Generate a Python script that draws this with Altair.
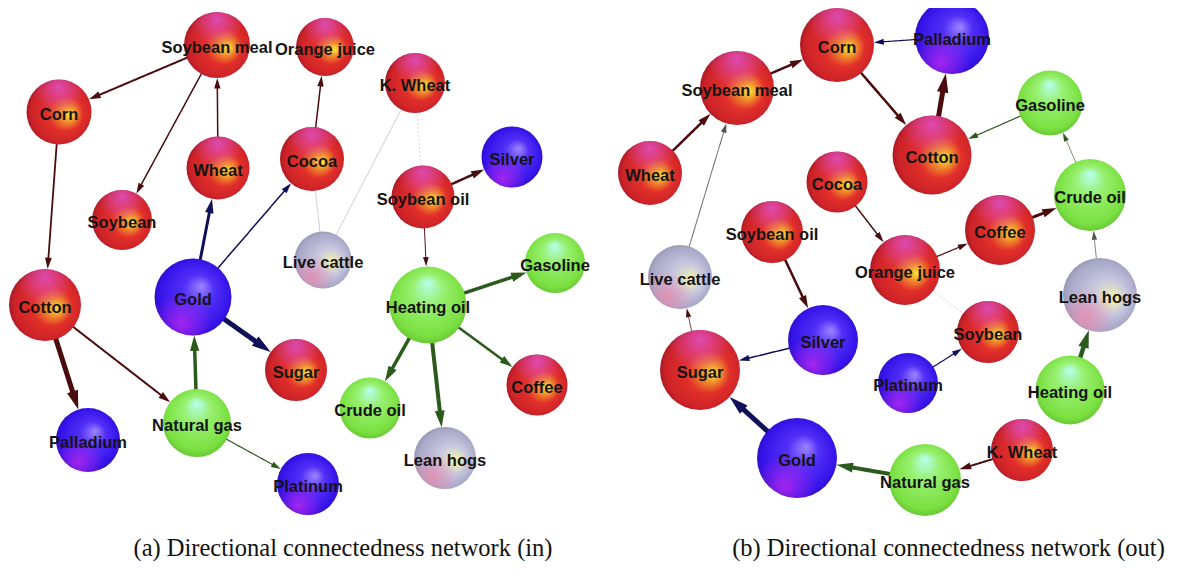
import math
import altair as alt
import pandas as pd

# ---------------- data ----------------
groups = {
    "Soybean meal": "agri", "Orange juice": "agri", "Corn": "agri", "Wheat": "agri",
    "Soybean": "agri", "Cocoa": "agri", "K. Wheat": "agri", "Soybean oil": "agri",
    "Sugar": "agri", "Cotton": "agri", "Coffee": "agri",
    "Gold": "metal", "Silver": "metal", "Palladium": "metal", "Platinum": "metal",
    "Heating oil": "energy", "Gasoline": "energy", "Crude oil": "energy", "Natural gas": "energy",
    "Live cattle": "live", "Lean hogs": "live",
}

# Panel (a): in-network
a_names = ["Soybean meal", "Orange juice", "Corn", "Wheat", "Soybean", "Cocoa", "K. Wheat",
           "Silver", "Soybean oil", "Live cattle", "Heating oil", "Gasoline", "Coffee",
           "Crude oil", "Lean hogs", "Platinum", "Sugar", "Gold", "Cotton", "Palladium",
           "Natural gas"]
a_x = [217, 325, 59, 218, 122, 312, 415, 512, 423, 323, 428, 555, 537, 370, 445, 308, 296, 193, 45, 88, 197]
a_y = [45, 47, 112, 168, 220, 159, 83, 157, 197, 260, 305, 263, 385, 408, 458, 484, 370, 297, 305, 440, 423]
a_r = [33, 29, 32.5, 31.5, 30, 32, 30, 30.5, 31.5, 28.5, 38.5, 30, 30.5, 30.5, 31, 31, 31, 38.5, 36, 32, 34]

a_src = ["Soybean meal", "Soybean meal", "Wheat", "Corn", "Cotton", "Cotton", "Gold", "Gold",
         "Gold", "Natural gas", "Natural gas", "Cocoa", "Live cattle", "Live cattle", "K. Wheat",
         "Soybean oil", "Soybean oil", "Heating oil", "Heating oil", "Heating oil", "Heating oil"]
a_dst = ["Corn", "Soybean", "Soybean meal", "Cotton", "Palladium", "Natural gas", "Wheat", "Cocoa",
         "Sugar", "Gold", "Platinum", "Orange juice", "Cocoa", "K. Wheat", "Soybean oil",
         "Silver", "Heating oil", "Gasoline", "Coffee", "Crude oil", "Lean hogs"]
a_w = [2.0, 1.5, 1.5, 1.8, 5.0, 2.0, 3.0, 1.5, 5.0, 3.5, 1.2, 1.5, 0.6, 0.6, 0.5, 2.5, 1.0, 3.5, 2.5, 3.5, 4.0]
a_kind = ["dir", "dir", "dir", "dir", "dir", "dir", "dir", "dir", "dir", "dir", "dir", "dir",
          "undir", "undir", "weak", "dir", "dir", "dir", "dir", "dir", "dir"]

# Panel (b): out-network
b_names = ["Corn", "Palladium", "Soybean meal", "Wheat", "Cocoa", "Soybean oil", "Gasoline",
           "Cotton", "Crude oil", "Coffee", "Orange juice", "Live cattle", "Lean hogs", "Silver",
           "Soybean", "Sugar", "Platinum", "Heating oil", "Gold", "K. Wheat", "Natural gas"]
b_x = [837, 952, 737, 650, 837, 772, 1050, 932, 1090, 1000, 905, 680, 1100, 823, 988, 700, 908, 1070, 797, 1022, 925]
b_y = [45, 37, 88, 173, 182, 232, 103, 155, 195, 230, 270, 277, 295, 340, 332, 370, 383, 390, 458, 450, 480]
b_r = [37, 37, 37, 32, 30.5, 31, 32.5, 39.5, 36, 35, 35, 32, 37, 35, 31, 40, 30, 34.5, 40, 31, 36]

b_src = ["Soybean meal", "Wheat", "Live cattle", "Palladium", "Corn", "Cotton", "Gasoline",
         "Crude oil", "Coffee", "Orange juice", "Cocoa", "Orange juice", "Lean hogs", "Heating oil",
         "Soybean oil", "Silver", "Sugar", "Platinum", "Gold", "Natural gas", "K. Wheat"]
b_dst = ["Corn", "Soybean meal", "Soybean meal", "Corn", "Cotton", "Palladium", "Cotton",
         "Gasoline", "Crude oil", "Coffee", "Orange juice", "Soybean", "Crude oil", "Lean hogs",
         "Silver", "Sugar", "Live cattle", "Soybean", "Sugar", "Gold", "Natural gas"]
b_w = [2.5, 2.5, 1.0, 1.2, 2.5, 5.0, 1.2, 0.7, 3.0, 1.2, 1.5, 0.5, 0.8, 4.5, 2.5, 1.5, 0.8, 1.2, 5.0, 4.0, 2.0]
b_kind = ["dir", "dir", "dir", "dir", "dir", "dir", "dir", "dir", "dir", "dir", "dir", "weak",
          "dir", "dir", "dir", "dir", "dir", "dir", "dir", "dir", "dir"]

captions = ["(a) Directional connectedness network (in)", "(b) Directional connectedness network (out)"]

# ---------------- styling ----------------
def stops(pairs):
    return [alt.GradientStop(offset=o, color=c) for o, c in pairs]

grad = {
    "agri": alt.RadialGradient(gradient="radial", x1=0.68, y1=0.55, r1=0.0, x2=0.52, y2=0.5, r2=0.56,
                               stops=stops([(0, "#f8e838"), (0.22, "#f08a2c"), (0.48, "#e2302a"),
                                            (0.85, "#cc2228"), (1, "#941622")])),
    "metal": alt.RadialGradient(gradient="radial", x1=0.62, y1=0.36, r1=0.0, x2=0.5, y2=0.5, r2=0.56,
                                stops=stops([(0, "#9c86ff"), (0.35, "#5230f6"), (0.8, "#3614ea"),
                                             (1, "#2808b8")])),
    "energy": alt.RadialGradient(gradient="radial", x1=0.5, y1=0.2, r1=0.0, x2=0.5, y2=0.5, r2=0.58,
                                 stops=stops([(0, "#b8fff0"), (0.35, "#98f070"), (0.8, "#7ae040"),
                                              (1, "#5cb432")])),
    "live": alt.RadialGradient(gradient="radial", x1=0.7, y1=0.55, r1=0.0, x2=0.5, y2=0.5, r2=0.58,
                               stops=stops([(0, "#f6f6a8"), (0.4, "#c8c8e0"), (0.8, "#a8a8c8"),
                                            (1, "#8a8aa0")])),
}
overlay = {
    "agri": ("rgba(224,80,200,0.85)", "rgba(224,80,200,0)", 0.5, 0.12),
    "metal": ("rgba(190,40,240,0.8)", "rgba(190,40,240,0)", 0.35, 0.85),
    "live": ("rgba(232,140,176,0.85)", "rgba(232,140,176,0)", 0.3, 0.8),
}

edge_groups = ["agri", "metal", "energy", "live", "gray"]
edge_colors = ["#4a0c0c", "#10105a", "#2c5a1c", "#555555", "#aaaaaa"]

# circle symbols: diameter = sqrt(size)
R_SCALE = alt.Scale(type="pow", exponent=2, domain=[0, 40], range=[0, 6400])


def build(names, xs, ys, rs, src, dst, ws, kinds, xdom, ydom, width, height, caption, cdx):
    nodes = pd.DataFrame({"name": names, "x": xs, "y": ys, "r": rs})
    nodes["group"] = nodes["name"].map(groups)
    pos = {n: (x, y, r) for n, x, y, r in zip(names, xs, ys, rs)}

    rows = []
    for s, t, w, k in zip(src, dst, ws, kinds):
        sx, sy, _ = pos[s]
        tx, ty, tr = pos[t]
        dx, dy = tx - sx, ty - sy
        d = math.hypot(dx, dy)
        ux, uy = dx / d, dy / d
        tipx, tipy = tx - ux * tr, ty - uy * tr
        L = 7 + 2.4 * w
        directed = k == "dir"
        ex, ey = (tipx - ux * L * 0.7, tipy - uy * L * 0.7) if directed else (tx, ty)
        rows.append({
            "sx": sx, "sy": sy, "ex": ex, "ey": ey, "w": w, "kind": k,
            "eg": groups[s] if k == "dir" else "gray",
            "ax": tipx - ux * L / 2, "ay": tipy - uy * L / 2,
            "ang": (math.degrees(math.atan2(ux, -uy)) + 360) % 360,
            "alen": L, "directed": directed,
        })
    edges = pd.DataFrame(rows)
    arrows = edges[edges["directed"]]

    X = alt.Scale(domain=xdom, nice=False, zero=False)
    Y = alt.Scale(domain=ydom, nice=False, zero=False, reverse=True)
    ecol = alt.Color("eg:N", scale=alt.Scale(domain=edge_groups, range=edge_colors), legend=None)

    lines = alt.Chart(edges).mark_rule().encode(
        x=alt.X("sx:Q", scale=X, axis=None), y=alt.Y("sy:Q", scale=Y, axis=None),
        x2="ex:Q", y2="ey:Q",
        strokeWidth=alt.StrokeWidth("w:Q", scale=alt.Scale(domain=[0, 5], range=[0, 5]), legend=None),
        color=ecol,
        strokeDash=alt.StrokeDash("kind:N", scale=alt.Scale(domain=["dir", "undir", "weak"],
                                                            range=[[1, 0], [1, 0], [2, 2]]), legend=None),
    )
    heads = alt.Chart(arrows).mark_point(shape="M0,-1L0.6,1L-0.6,1Z", filled=True, opacity=1).encode(
        x=alt.X("ax:Q", scale=X, axis=None), y=alt.Y("ay:Q", scale=Y, axis=None),
        angle=alt.Angle("ang:Q", scale=alt.Scale(domain=[0, 360], range=[0, 360])),
        size=alt.Size("alen:Q", scale=alt.Scale(type="pow", exponent=2, domain=[0, 30], range=[0, 900]),
                      legend=None),
        color=ecol,
    )
    layers = [lines, heads]
    for g in ["agri", "metal", "energy", "live"]:
        base = alt.Chart(nodes).transform_filter(alt.datum.group == g)
        layers.append(base.mark_circle(fill=grad[g], opacity=1, clip=True).encode(
            x=alt.X("x:Q", scale=X, axis=None), y=alt.Y("y:Q", scale=Y, axis=None),
            size=alt.Size("r:Q", scale=R_SCALE, legend=None)))
        if g in overlay:
            c0, c1, ox, oy = overlay[g]
            og = alt.RadialGradient(gradient="radial", x1=ox, y1=oy, r1=0.0, x2=ox, y2=oy, r2=0.4,
                                    stops=stops([(0, c0), (1, c1)]))
            layers.append(base.mark_circle(fill=og, opacity=1, clip=True).encode(
                x=alt.X("x:Q", scale=X, axis=None), y=alt.Y("y:Q", scale=Y, axis=None),
                size=alt.Size("r:Q", scale=R_SCALE, legend=None)))
    labels = alt.Chart(nodes).mark_text(font="Liberation Sans", fontWeight="bold", fontSize=16.5,
                                        color="#141414", dy=3).encode(
        x=alt.X("x:Q", scale=X, axis=None), y=alt.Y("y:Q", scale=Y, axis=None), text="name:N")
    layers.append(labels)
    return alt.layer(*layers).resolve_scale(size="independent").properties(
        width=width, height=height,
        title=alt.TitleParams(caption, orient="bottom", font="Liberation Serif", fontSize=24.5,
                              fontWeight="normal", color="#111111", offset=19, dx=cdx, baseline="top"),
    )


pa = build(a_names, a_x, a_y, a_r, a_src, a_dst, a_w, a_kind, [8, 598], [8, 518], 590, 510, captions[0], 40)
pb = build(b_names, b_x, b_y, b_r, b_src, b_dst, b_w, b_kind, [598, 1171], [8, 518], 573, 510, captions[1], 64)

chart = alt.hconcat(pa, pb, spacing=0).properties(padding=0).configure_view(stroke=None)
chart.save("out.html", embed_options={"renderer": "svg", "actions": False})
